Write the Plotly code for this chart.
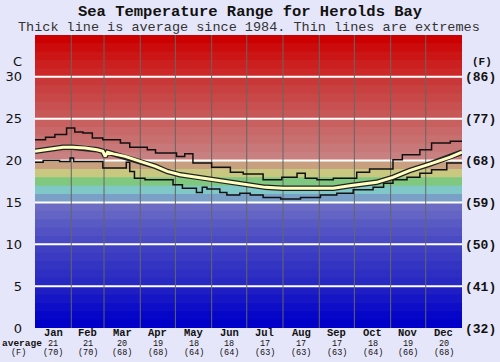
import plotly.graph_objects as go

# ---------------- data ----------------
months = ["Jan", "Feb", "Mar", "Apr", "May", "Jun", "Jul", "Aug", "Sep", "Oct", "Nov", "Dec"]
month_days = [31, 28, 31, 30, 31, 30, 31, 31, 30, 31, 30, 31]
avg_c = ["21", "21", "20", "19", "18", "18", "17", "17", "17", "18", "19", "20"]
avg_f = ["(70)", "(70)", "(68)", "(68)", "(64)", "(64)", "(63)", "(63)", "(63)", "(64)", "(66)", "(68)"]

y_ticks = [0, 5, 10, 15, 20, 25, 30]
f_ticks = ["(32)", "(41)", "(50)", "(59)", "(68)", "(77)", "(86)"]

# extremes (day of year where a level starts, value in C)
max_day = [0, 9, 17, 27, 34, 41, 49, 58, 73, 81, 96, 103, 121, 128, 135, 151, 167, 178, 195, 211,
           224, 231, 241, 255, 275, 286, 306, 314, 329, 339, 355, 365]
max_val = [22.5, 22.8, 23.1, 23.9, 23.4, 23.3, 22.7, 22.5, 22.1, 21.6, 21.3, 20.9, 20.5, 20.8, 19.7,
           19.2, 18.6, 18.4, 17.7, 18.0, 18.5, 17.9, 17.7, 17.9, 18.6, 19.0, 20.1, 20.7, 21.3, 22.1,
           22.3, 22.3]

min_day = [0, 7, 21, 30, 33, 58, 78, 81, 85, 94, 118, 126, 138, 143, 147, 158, 164, 175, 184, 195,
           210, 227, 244, 258, 272, 289, 298, 306, 318, 329, 339, 352, 365]
min_val = [19.8, 20.0, 19.9, 20.3, 19.9, 19.1, 19.8, 18.7, 17.9, 17.7, 17.1, 16.7, 16.2, 16.8, 16.6,
           16.2, 15.9, 16.1, 15.9, 15.6, 15.4, 15.6, 15.9, 16.1, 16.5, 16.8, 17.3, 17.7, 18.0, 18.5,
           18.9, 19.7, 19.7]

avg_day = [0, 13, 24, 32, 43, 53, 58, 60, 62, 67, 77, 90, 103, 113, 124, 144, 167, 181, 197, 212,
           235, 255, 269, 292, 306, 320, 338, 355, 365]
avg_val = [21.1, 21.4, 21.6, 21.6, 21.5, 21.3, 21.1, 20.5, 21.0, 20.8, 20.5, 19.9, 19.3, 18.7, 18.3,
           17.9, 17.4, 17.1, 16.8, 16.7, 16.7, 16.7, 17.0, 17.4, 18.0, 18.8, 19.6, 20.4, 21.0]

# background colour for each 1-degree band from 0 to 35
band_colors = [
    "#0000c8", "#0606c8", "#0e0ec8", "#1616c6", "#1e1ec4",
    "#2828c2", "#2e2ec2", "#3434c2", "#3a3ac2", "#4040c2",
    "#4a4ac4", "#5252c4", "#5a5ac4", "#6464c4", "#6c6cc4",
    "#7aa0c8", "#80c8c8", "#80c880", "#c8c880", "#c8a080",
    "#c88080", "#c87878", "#c87070", "#c86868", "#c86060",
    "#c85858", "#c85050", "#c84848", "#c84040", "#c83838",
    "#cc2828", "#cc2020", "#cc1616", "#cc0c0c", "#cc0000",
]

# ---------------- figure ----------------
month_start = [sum(month_days[:i]) for i in range(12)]
month_mid = [month_start[i] + month_days[i] / 2 for i in range(12)]

L, R, T, B = 35, 462, 35, 328  # plot area in pixels


def px(xp):
    return (xp - L) / float(R - L)


def py(yp):
    return (B - yp) / float(B - T)


fig = go.Figure()

shapes = []
n_bands = len(band_colors)
for i, c in enumerate(band_colors):
    top = i + 1.15 if i < n_bands - 1 else i + 1
    shapes.append(dict(type="rect", xref="paper", yref="y", x0=0, x1=1, y0=i, y1=top,
                       fillcolor=c, line=dict(width=0), layer="below"))
for v in y_ticks[1:]:
    shapes.append(dict(type="line", xref="paper", yref="y", x0=0, x1=1, y0=v, y1=v,
                       line=dict(color="white", width=2), layer="below"))
for d in month_start[1:]:
    shapes.append(dict(type="line", xref="x", yref="paper", x0=d, x1=d, y0=0, y1=1,
                       line=dict(color="#666666", width=1), layer="below"))

fig.add_trace(go.Scatter(x=max_day, y=max_val, mode="lines", line_shape="hv",
                         line=dict(color="#111111", width=1.5), hoverinfo="skip"))
fig.add_trace(go.Scatter(x=min_day, y=min_val, mode="lines", line_shape="hv",
                         line=dict(color="#111111", width=1.5), hoverinfo="skip"))
fig.add_trace(go.Scatter(x=avg_day, y=avg_val, mode="lines",
                         line=dict(color="#222222", width=5.5), hoverinfo="skip"))
fig.add_trace(go.Scatter(x=avg_day, y=avg_val, mode="lines",
                         line=dict(color="#ffffc0", width=3), hoverinfo="skip"))
fig.add_trace(go.Scatter(x=[0], y=[0], yaxis="y2", mode="markers",
                         marker=dict(opacity=0), hoverinfo="skip"))

mono = "Liberation Mono"
ann = []
for i in range(12):
    ann.append(dict(x=month_mid[i], y=py(333), xref="x", yref="paper", text="<b>%s</b>" % months[i],
                    showarrow=False, font=dict(family=mono, size=10.5, color="#111"),
                    xanchor="center", yanchor="middle"))
    ann.append(dict(x=month_mid[i], y=py(343.5), xref="x", yref="paper", text=avg_c[i],
                    showarrow=False, font=dict(family=mono, size=8.5, color="#111"),
                    xanchor="center", yanchor="middle"))
    ann.append(dict(x=month_mid[i], y=py(353), xref="x", yref="paper", text=avg_f[i],
                    showarrow=False, font=dict(family=mono, size=8.5, color="#111"),
                    xanchor="center", yanchor="middle"))
ann.append(dict(x=px(22), y=py(343.5), xref="paper", yref="paper", text="<b>average</b>", showarrow=False,
                font=dict(family=mono, size=9.5, color="#111"), xanchor="center", yanchor="middle"))
ann.append(dict(x=px(18), y=py(353), xref="paper", yref="paper", text="(F)", showarrow=False,
                font=dict(family=mono, size=8.5, color="#111"), xanchor="center", yanchor="middle"))
ann.append(dict(x=px(17.5), y=py(61), xref="paper", yref="paper", text="C",
                showarrow=False, font=dict(family="DejaVu Sans", size=13, color="#111"),
                xanchor="center", yanchor="middle"))
ann.append(dict(x=px(482), y=py(62), xref="paper", yref="paper", text="<b>(F)</b>",
                showarrow=False, font=dict(family=mono, size=11, color="#111"),
                xanchor="center", yanchor="middle"))
ann.append(dict(x=px(250), y=py(12), xref="paper", yref="paper",
                text="<b>Sea Temperature Range for Herolds Bay</b>", showarrow=False,
                font=dict(family=mono, size=15.5, color="#111"), xanchor="center", yanchor="middle"))
ann.append(dict(x=px(249), y=py(27), xref="paper", yref="paper",
                text="Thick line is average since 1984. Thin lines are extremes", showarrow=False,
                font=dict(family=mono, size=13.5, color="#333"), xanchor="center", yanchor="middle"))

fig.update_layout(
    width=500, height=362,
    margin=dict(l=L, r=500 - R, t=T, b=362 - B, pad=0),
    paper_bgcolor="#e6e6fa", plot_bgcolor="#e6e6fa",
    showlegend=False,
    shapes=shapes,
    annotations=ann,
    xaxis=dict(range=[0, 365], showgrid=False, zeroline=False, showticklabels=False,
               ticks="", fixedrange=True, automargin=False),
    yaxis=dict(range=[0, 35], tickvals=y_ticks, ticktext=[str(v) for v in y_ticks],
               showgrid=False, zeroline=False, ticks="", ticklabelstandoff=12,
               tickfont=dict(family="DejaVu Sans", size=13, color="#111"), automargin=False),
    yaxis2=dict(range=[0, 35], overlaying="y", side="right", tickvals=y_ticks, ticktext=f_ticks,
                showgrid=False, zeroline=False, ticks="", ticklabelstandoff=2,
                tickfont=dict(family=mono, size=13, color="#111", weight="bold"), automargin=False),
)

fig.write_html("out.html", config={"displayModeBar": False, "staticPlot": True},
               post_script="document.body.style.margin='0';document.body.style.overflow='hidden';")
